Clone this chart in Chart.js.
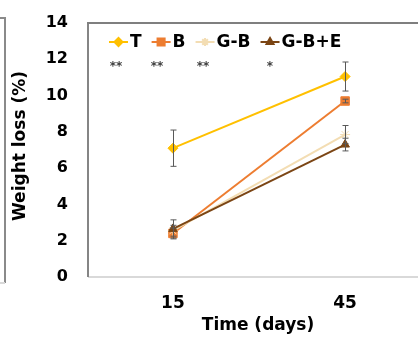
<!DOCTYPE html>
<html>
<head>
<meta charset="utf-8">
<script src="https://cdn.jsdelivr.net/npm/chart.js@4/dist/chart.umd.min.js"></script>
<style>
  html, body { margin: 0; padding: 0; background: #fff; overflow: hidden; }
  #wrap { width: 418px; height: 338px; position: relative; }
</style>
</head>
<body>
<div id="wrap"><canvas id="lossChart"></canvas></div>
<script>
// values
const days = [15, 45];
const seriesNames = ["T", "B", "G-B", "G-B+E"];
const tValues = [7.1, 11.05];
const bValues = [2.4, 9.7];
const gbValues = [2.55, 7.85];
const gbeValues = [2.65, 7.3];
const tErr = [1.0, 0.8];
const bErr = [0.3, 0.1];
const gbErr = [0.3, 0.5];
const gbeErr = [0.5, 0.35];
const yTicks = [0, 2, 4, 6, 8, 10, 12, 14];
const signif = ["**", "**", "**", "*"];

const FONT = "'DejaVu Sans', Verdana, sans-serif";

function toPoints(vals) {
    return days.map((d, i) => ({ x: d, y: vals[i] }));
}

const styles = [
    { color: "#FFC000", point: "rectRot", radius: 5 },
    { color: "#ED7D31", point: "rect", radius: 6 },
    { color: "#F3DDB3", point: "star", radius: 5 },
    { color: "#7B4514", point: "triangle", radius: 5 }
];
const allValues = [tValues, bValues, gbValues, gbeValues];
const allErrors = [tErr, bErr, gbErr, gbeErr];

// axis frame drawn underneath the lines
const frame = {
    id: "frame",
    beforeDatasetsDraw(chart) {
        const ctx = chart.ctx;
        const area = chart.chartArea;
        ctx.save();
        ctx.lineWidth = 2;
        // bottom axis
        ctx.strokeStyle = "#d9d9d9";
        ctx.beginPath();
        ctx.moveTo(area.left, area.bottom);
        ctx.lineTo(chart.width, area.bottom);
        ctx.stroke();
        // left axis
        ctx.strokeStyle = "#858585";
        ctx.beginPath();
        ctx.moveTo(area.left, area.top);
        ctx.lineTo(area.left, area.bottom);
        ctx.stroke();
        // top frame line
        ctx.strokeStyle = "#7f7f7f";
        ctx.beginPath();
        ctx.moveTo(area.left - 1, area.top);
        ctx.lineTo(chart.width, area.top);
        ctx.stroke();
        // leftover border of the neighbouring panel
        ctx.strokeStyle = "#8a8a8a";
        ctx.beginPath();
        ctx.moveTo(0, 18); ctx.lineTo(5, 18); ctx.lineTo(5, 283);
        ctx.stroke();
        ctx.strokeStyle = "#d9d9d9";
        ctx.beginPath();
        ctx.moveTo(0, 283); ctx.lineTo(5, 283);
        ctx.stroke();
        ctx.restore();
    }
};

// error bars, legend, asterisks, titles
const extras = {
    id: "extras",
    afterDatasetsDraw(chart) {
        const ctx = chart.ctx;
        const xs = chart.scales.x, ys = chart.scales.y;
        ctx.save();

        // error bars
        ctx.strokeStyle = "#595959";
        ctx.lineWidth = 1;
        allValues.forEach((vals, s) => {
            vals.forEach((v, i) => {
                const e = allErrors[s][i];
                const px = Math.round(xs.getPixelForValue(days[i])) + 0.5;
                const top = ys.getPixelForValue(v + e);
                const bot = ys.getPixelForValue(v - e);
                ctx.beginPath();
                ctx.moveTo(px, top); ctx.lineTo(px, bot);
                ctx.moveTo(px - 3, top); ctx.lineTo(px + 3, top);
                ctx.moveTo(px - 3, bot); ctx.lineTo(px + 3, bot);
                ctx.stroke();
            });
        });

        // legend
        ctx.font = "bold 17px " + FONT;
        ctx.textBaseline = "middle";
        ctx.textAlign = "left";
        let lx = 109;
        const ly = 42;
        seriesNames.forEach((name, i) => {
            const st = styles[i];
            ctx.strokeStyle = st.color;
            ctx.lineWidth = 2;
            ctx.beginPath();
            ctx.moveTo(lx, ly); ctx.lineTo(lx + 19, ly);
            ctx.stroke();
            ctx.fillStyle = st.color;
            Chart.helpers.drawPoint(ctx, {
                pointStyle: st.point, radius: st.radius - 1, rotation: 0, borderWidth: 1
            }, lx + 9.5, ly);
            ctx.fillStyle = "#000";
            ctx.fillText(name, lx + 21, ly + 1);
            lx += 21 + ctx.measureText(name).width + 10;
        });

        // significance marks
        ctx.font = "bold 12px " + FONT;
        ctx.fillStyle = "#404040";
        ctx.textAlign = "center";
        const sx = [116, 157, 203, 270];
        signif.forEach((s, i) => ctx.fillText(s, sx[i], 67));

        // axis titles
        ctx.font = "bold 17px " + FONT;
        ctx.fillStyle = "#000";
        ctx.fillText("Time (days)", 258, 326);
        ctx.translate(21, 146);
        ctx.rotate(-Math.PI / 2);
        ctx.fillText("Weight loss (%)", 0, 0);
        ctx.restore();
    }
};

const datasets = seriesNames.map((name, i) => ({
    label: name,
    data: toPoints(allValues[i]),
    borderColor: styles[i].color,
    backgroundColor: styles[i].color,
    pointStyle: styles[i].point,
    pointRadius: styles[i].radius,
    pointBorderWidth: 1,
    borderWidth: 2,
    order: 3 - i
}));

new Chart(document.getElementById("lossChart"), {
    type: "line",
    data: { datasets: datasets },
    options: {
        responsive: true,
        maintainAspectRatio: false,
        animation: false,
        layout: { autoPadding: false, padding: { top: 23, left: 0, right: 0, bottom: 0 } },
        plugins: {
            legend: { display: false },
            tooltip: { enabled: false }
        },
        scales: {
            x: {
                type: "linear",
                min: 0.2,
                max: 57.7,
                afterBuildTicks: (scale) => { scale.ticks = days.map(d => ({ value: d })); },
                afterFit: (scale) => {
                    scale.height = 61;
                    scale.paddingLeft = 0;
                    scale.paddingRight = 0;
                },
                grid: { display: false, drawTicks: false },
                border: { display: false },
                ticks: {
                    padding: 16,
                    color: "#000",
                    font: { family: FONT, size: 17, weight: "bold" }
                }
            },
            y: {
                min: 0,
                max: 14,
                afterBuildTicks: (scale) => { scale.ticks = yTicks.map(v => ({ value: v })); },
                afterFit: (scale) => {
                    scale.width = 88;
                    scale.paddingTop = 0;
                    scale.paddingBottom = 0;
                },
                grid: { display: false, drawTicks: false },
                border: { display: false },
                ticks: {
                    padding: 20,
                    color: "#000",
                    font: { family: FONT, size: 16, weight: "bold" }
                }
            }
        }
    },
    plugins: [frame, extras]
});
</script>
</body>
</html>
